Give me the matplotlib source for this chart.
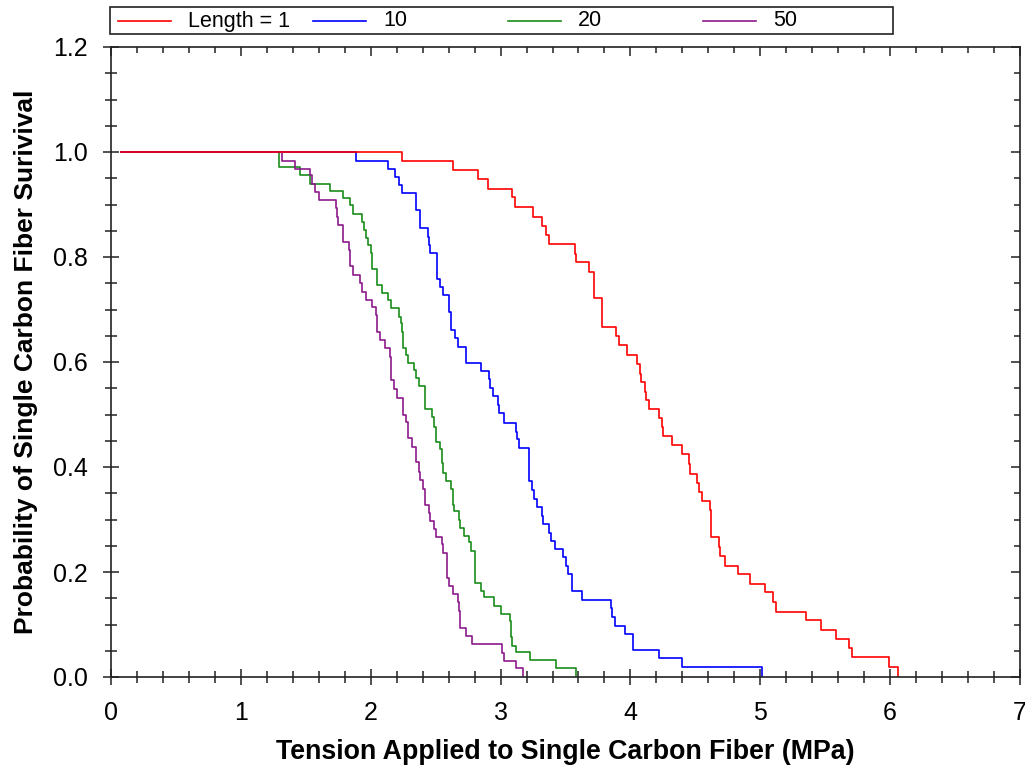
import matplotlib
matplotlib.use("Agg")
import matplotlib.pyplot as plt
from matplotlib.lines import Line2D
from matplotlib.patches import Rectangle
from matplotlib.ticker import MultipleLocator

plt.rcParams["font.family"] = ["Liberation Sans", "DejaVu Sans"]

# Survival step curves (x = tension at each drop, y = survival after it)
labels = ["Length = 1", "10", "20", "50"]
colors = ["#ff0000", "#0000ff", "#1a8c1a", "#8c1a8c"]

len1_x = [0.08, 2.24, 2.63, 2.83, 2.90, 3.09, 3.11, 3.25, 3.32, 3.35, 3.37, 3.57, 3.58,
          3.68, 3.72, 3.78, 3.89, 3.91, 3.97, 4.05, 4.07, 4.08, 4.11, 4.12, 4.14, 4.22,
          4.24, 4.25, 4.32, 4.40, 4.45, 4.46, 4.51, 4.53, 4.55, 4.61, 4.62, 4.68, 4.69,
          4.73, 4.83, 4.92, 5.04, 5.10, 5.12, 5.35, 5.47, 5.58, 5.68, 5.71, 5.99, 6.06]
len1_y = [1.0, .983, .965, .948, .930, .914, .896, .876, .860, .841, .825, .806, .790,
          .771, .721, .667, .650, .632, .613, .597, .578, .561, .543, .528, .510, .493,
          .476, .459, .441, .425, .406, .387, .370, .353, .336, .318, .267, .248, .230,
          .212, .196, .178, .161, .142, .123, .109, .090, .072, .055, .039, .020, 0.0]

len10_x = [0.08, 1.89, 2.13, 2.19, 2.22, 2.24, 2.345, 2.38, 2.44, 2.45, 2.46, 2.51, 2.53,
           2.56, 2.60, 2.62, 2.65, 2.67, 2.73, 2.85, 2.91, 2.92, 2.94, 2.98, 2.99, 3.03,
           3.12, 3.13, 3.14, 3.22, 3.24, 3.26, 3.28, 3.32, 3.33, 3.37, 3.39, 3.42, 3.48,
           3.50, 3.52, 3.55, 3.63, 3.85, 3.86, 3.88, 3.96, 4.02, 4.22, 4.40, 5.01]
len10_y = [1.0, .983, .967, .953, .937, .921, .890, .855, .839, .823, .807, .759, .743,
           .728, .696, .661, .645, .629, .599, .583, .567, .550, .535, .518, .502, .484,
           .467, .453, .437, .373, .357, .340, .323, .307, .291, .275, .260, .244, .228,
           .212, .196, .164, .147, .131, .115, .098, .082, .051, .036, .020, 0.0]

len20_x = [0.08, 1.295, 1.457, 1.53, 1.69, 1.79, 1.84, 1.86, 1.93, 1.95, 1.96, 1.98, 2.00,
           2.01, 2.05, 2.09, 2.13, 2.16, 2.22, 2.23, 2.24, 2.25, 2.27, 2.29, 2.33, 2.35,
           2.37, 2.42, 2.47, 2.49, 2.50, 2.53, 2.55, 2.56, 2.58, 2.62, 2.63, 2.64, 2.68,
           2.69, 2.72, 2.76, 2.77, 2.80, 2.85, 2.87, 2.95, 3.00, 3.07, 3.08, 3.09, 3.12,
           3.23, 3.43, 3.58]
len20_y = [1.0, .971, .956, .939, .926, .912, .899, .882, .867, .851, .836, .823, .807,
           .778, .747, .731, .718, .702, .686, .674, .658, .626, .613, .599, .585, .569,
           .554, .510, .496, .477, .448, .434, .407, .388, .373, .359, .328, .316, .299,
           .284, .269, .258, .240, .180, .164, .152, .136, .120, .107, .077, .060, .047,
           .032, .017, 0.0]

len50_x = [0.08, 1.32, 1.42, 1.53, 1.55, 1.57, 1.60, 1.73, 1.74, 1.75, 1.79, 1.83, 1.84,
           1.86, 1.92, 1.93, 1.96, 2.01, 2.04, 2.05, 2.07, 2.11, 2.15, 2.16, 2.18, 2.20,
           2.25, 2.27, 2.29, 2.32, 2.35, 2.37, 2.38, 2.40, 2.42, 2.45, 2.46, 2.49, 2.50,
           2.55, 2.56, 2.59, 2.60, 2.63, 2.67, 2.68, 2.69, 2.73, 2.78, 3.01, 3.03, 3.12, 3.17]
len50_y = [1.0, .983, .967, .956, .940, .924, .909, .893, .877, .861, .829, .813, .782,
           .766, .750, .734, .718, .705, .690, .658, .642, .626, .610, .566, .548, .532,
           .499, .486, .455, .439, .409, .391, .375, .359, .328, .313, .298, .281, .266,
           .253, .237, .188, .173, .158, .143, .126, .094, .078, .062, .046, .031, .018, 0.0]

series = [(len1_x, len1_y), (len10_x, len10_y), (len20_x, len20_y), (len50_x, len50_y)]

W, H = 1025, 767
fig = plt.figure(figsize=(W / 100, H / 100), dpi=100)
ax = fig.add_axes([111 / W, 1 - 677 / H, (1020 - 111) / W, (677 - 47) / H])

# draw red last so it sits on top of the shared 1.0 plateau
for i in [2, 3, 1, 0]:
    xs, ys = series[i]
    ax.step(xs, ys, where="post", color=colors[i], lw=1.2)

ax.set_xlim(0, 7)
ax.set_ylim(0, 1.2)
ax.xaxis.set_major_locator(MultipleLocator(1))
ax.xaxis.set_minor_locator(MultipleLocator(0.2))
ax.yaxis.set_major_locator(MultipleLocator(0.2))
ax.yaxis.set_minor_locator(MultipleLocator(0.05))
ax.yaxis.set_major_formatter(lambda v, p: f"{v:.1f}")

spine_c = "#222222"
for s in ax.spines.values():
    s.set_color(spine_c)
    s.set_linewidth(1.2)

ax.tick_params(which="major", direction="inout", length=12, width=1.1, color=spine_c,
               labelsize=18, pad=11)
ax.tick_params(which="minor", direction="inout", length=8, width=1.1, color=spine_c)

# top and right get inward ticks only
top = ax.secondary_xaxis("top")
top.xaxis.set_major_locator(MultipleLocator(1))
top.xaxis.set_minor_locator(MultipleLocator(0.2))
top.tick_params(which="major", direction="in", length=6.5, width=1.1, color=spine_c,
                labeltop=False)
top.tick_params(which="minor", direction="in", length=4, width=1.1, color=spine_c)
top.spines["top"].set_visible(False)

right = ax.secondary_yaxis("right")
right.yaxis.set_major_locator(MultipleLocator(0.2))
right.yaxis.set_minor_locator(MultipleLocator(0.05))
right.tick_params(which="major", direction="in", length=6.5, width=1.1, color=spine_c,
                  labelright=False)
right.tick_params(which="minor", direction="in", length=4, width=1.1, color=spine_c)
right.spines["right"].set_visible(False)

ax.set_xlabel("Tension Applied to Single Carbon Fiber (MPa)", fontsize=19.3,
              fontweight="bold", labelpad=10.5)
ax.set_ylabel("Probability of Single Carbon Fiber Surivival", fontsize=19,
              fontweight="bold", labelpad=10.5)

# legend box across the top
def fx(px):
    return px / W

def fy(py):
    return 1 - py / H

fig.add_artist(Rectangle((fx(110), fy(34)), fx(893) - fx(110), fy(7) - fy(34),
                         transform=fig.transFigure, fill=False, ec=spine_c, lw=1.2))
for i, lab in enumerate(labels):
    x0 = 118 + i * 195
    fig.add_artist(Line2D([fx(x0), fx(x0 + 53)], [fy(21), fy(21)],
                          transform=fig.transFigure, color=colors[i], lw=1.2))
    fig.text(fx(x0 + 70), fy(21), lab, fontsize=15.5, va="center", ha="left")

fig.savefig("out.png", dpi=100)
